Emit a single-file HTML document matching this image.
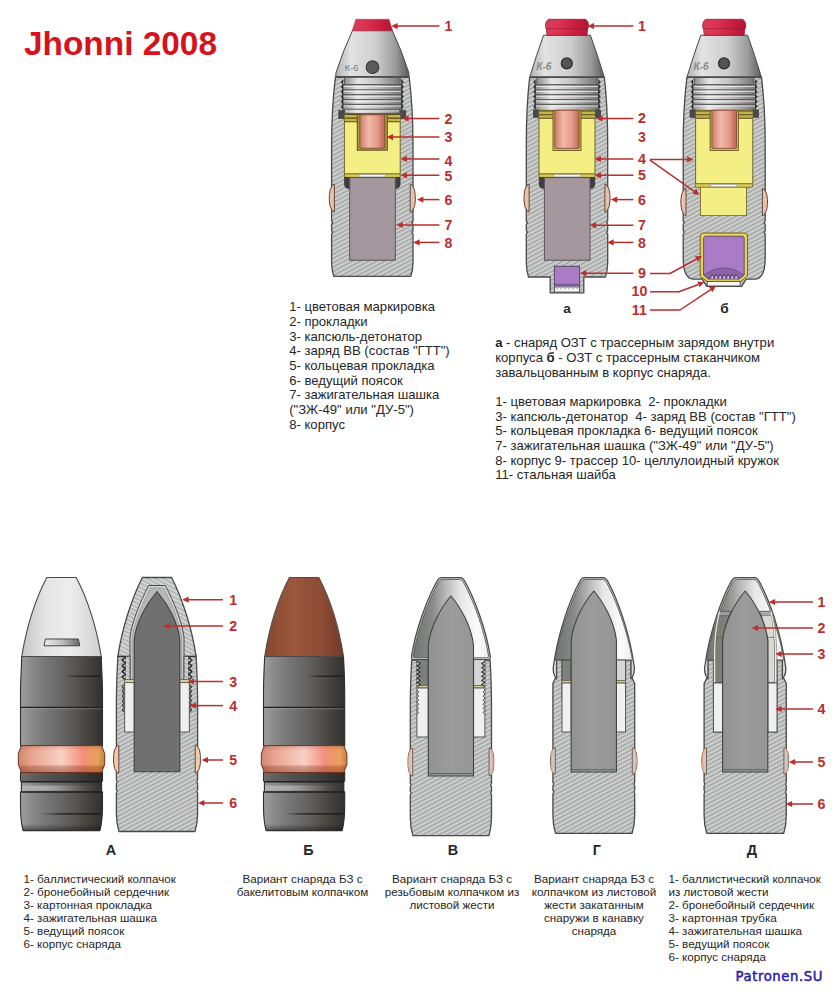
<!DOCTYPE html>
<html lang="ru">
<head>
<meta charset="utf-8">
<title>Jhonni 2008</title>
<style>
html,body{margin:0;padding:0;background:#fff;}
body{width:839px;height:1000px;overflow:hidden;}
svg{display:block;}
</style>
</head>
<body>
<svg width="839" height="1000" viewBox="0 0 839 1000">
<defs>
<pattern id="hatch" patternUnits="userSpaceOnUse" width="3.8" height="3.8" patternTransform="rotate(-28)">
  <rect width="3.8" height="3.8" fill="#ced0d0"/>
  <rect width="3.8" height="1.55" fill="#a4a6a6"/>
</pattern>
<pattern id="hatch2" patternUnits="userSpaceOnUse" width="3.8" height="3.8" patternTransform="rotate(28)">
  <rect width="3.8" height="3.8" fill="#d4d5d5"/>
  <rect width="3.8" height="1.5" fill="#aeb0b0"/>
</pattern>
<linearGradient id="fuze" x1="0" x2="1" y1="0" y2="0">
  <stop offset="0" stop-color="#b2b2b2"/><stop offset="0.2" stop-color="#e2e2e2"/>
  <stop offset="0.55" stop-color="#cecece"/><stop offset="0.82" stop-color="#9a9a9a"/><stop offset="1" stop-color="#5c5c5c"/>
</linearGradient>
<linearGradient id="thread" x1="0" x2="1" y1="0" y2="0">
  <stop offset="0" stop-color="#8e8e8e"/><stop offset="0.25" stop-color="#e6e6e6"/>
  <stop offset="0.6" stop-color="#c0c0c0"/><stop offset="1" stop-color="#757575"/>
</linearGradient>
<linearGradient id="redcap" x1="0" x2="1" y1="0" y2="0">
  <stop offset="0" stop-color="#d4405a"/><stop offset="0.3" stop-color="#dc3452"/>
  <stop offset="0.7" stop-color="#c81e40"/><stop offset="1" stop-color="#b01834"/>
</linearGradient>
<linearGradient id="copper" x1="0" x2="1" y1="0" y2="0">
  <stop offset="0" stop-color="#cb7c6a"/><stop offset="0.35" stop-color="#f2b8a8"/>
  <stop offset="0.7" stop-color="#e39c8a"/><stop offset="1" stop-color="#bb6652"/>
</linearGradient>
<linearGradient id="darkbody" x1="0" x2="1" y1="0" y2="0">
  <stop offset="0" stop-color="#9e9e9e"/><stop offset="0.12" stop-color="#8c8c8c"/><stop offset="0.3" stop-color="#777777"/>
  <stop offset="0.5" stop-color="#676666"/><stop offset="0.7" stop-color="#54514f"/><stop offset="0.88" stop-color="#403c3a"/><stop offset="1" stop-color="#33302e"/>
</linearGradient>
<linearGradient id="ridge" x1="0" x2="1" y1="0" y2="0">
  <stop offset="0" stop-color="#fff" stop-opacity="0.25"/><stop offset="0.3" stop-color="#fff" stop-opacity="0.4"/><stop offset="0.8" stop-color="#fff" stop-opacity="0.05"/><stop offset="1" stop-color="#fff" stop-opacity="0"/>
</linearGradient>
<linearGradient id="botshade" x1="0" x2="0" y1="0" y2="1">
  <stop offset="0" stop-color="#111" stop-opacity="0"/><stop offset="1" stop-color="#111" stop-opacity="0.45"/>
</linearGradient>
<linearGradient id="lightcap" x1="0" x2="1" y1="0" y2="0">
  <stop offset="0" stop-color="#c4c4c4"/><stop offset="0.3" stop-color="#e4e4e4"/>
  <stop offset="0.6" stop-color="#eeeeee"/><stop offset="1" stop-color="#cfcfcf"/>
</linearGradient>
<linearGradient id="browncap" x1="0" x2="1" y1="0" y2="0">
  <stop offset="0" stop-color="#86482f"/><stop offset="0.35" stop-color="#9b573e"/>
  <stop offset="0.7" stop-color="#8e4c35"/><stop offset="1" stop-color="#743a28"/>
</linearGradient>
<linearGradient id="band" x1="0" x2="1" y1="0" y2="0">
  <stop offset="0" stop-color="#d0866c"/><stop offset="0.15" stop-color="#e8a48e"/>
  <stop offset="0.5" stop-color="#fad0c6"/><stop offset="0.75" stop-color="#f29078"/><stop offset="0.92" stop-color="#eaa05c"/><stop offset="1" stop-color="#c88040"/>
</linearGradient>
<linearGradient id="bandv" x1="0" x2="0" y1="0" y2="1">
  <stop offset="0" stop-color="#7a2a10" stop-opacity="0.18"/><stop offset="0.2" stop-color="#7a2a10" stop-opacity="0"/>
  <stop offset="0.7" stop-color="#7a2a10" stop-opacity="0"/><stop offset="0.78" stop-color="#7a2a10" stop-opacity="0.3"/><stop offset="1" stop-color="#7a2a10" stop-opacity="0.45"/>
</linearGradient>
<linearGradient id="sheet" x1="0" x2="1" y1="0" y2="0">
  <stop offset="0" stop-color="#737571"/><stop offset="0.25" stop-color="#888a86"/><stop offset="0.42" stop-color="#b4b4b4"/>
  <stop offset="0.62" stop-color="#e6e6e6"/><stop offset="0.85" stop-color="#fbfbfb"/><stop offset="1" stop-color="#ececec"/>
</linearGradient>
<linearGradient id="core" x1="0" x2="1" y1="0" y2="0">
  <stop offset="0" stop-color="#929292"/><stop offset="0.5" stop-color="#9c9c9c"/><stop offset="1" stop-color="#959595"/>
</linearGradient>
<linearGradient id="slit" x1="0" x2="1" y1="0" y2="0">
  <stop offset="0" stop-color="#ececec"/><stop offset="0.5" stop-color="#c0c0c0"/><stop offset="1" stop-color="#666"/>
</linearGradient>
<linearGradient id="streak" x1="0" x2="1" y1="0" y2="0">
  <stop offset="0" stop-color="#1a1a1a" stop-opacity="0"/><stop offset="0.35" stop-color="#1a1a1a" stop-opacity="0.75"/><stop offset="1" stop-color="#1a1a1a" stop-opacity="0.9"/>
</linearGradient>
</defs>
<rect width="839" height="1000" fill="#fff"/>
<text x="24" y="54.5" font-family="'Liberation Sans', sans-serif" font-weight="bold" font-size="33.4" fill="#d6121c" text-anchor="start">Jhonni 2008</text>
<path d="M335.4,77 C333,97 331.6,120 331.6,145 V221.0 l1.2,1.6 l-1.2,1.6 V230.6 l1.2,1.6 l-1.2,1.6 V262 Q331.6,270 333.8,276.3 H410.8 Q413,270 413,262 V233.79999999999998 l-1.2,-1.6 l1.2,-1.6 V224.2 l-1.2,-1.6 l1.2,-1.6 V145 C413,120 411.6,97 409.2,77 Z" fill="url(#hatch)" stroke="#494949" stroke-width="1.3" stroke-linejoin="round"/>
<path d="M334.4,184.3 L332.8,184.70000000000002 Q329.3,189.3 329.3,195.3 V201 Q329.3,207 332.8,211.6 L334.4,212 Z" fill="#ecc0a8" stroke="#5c4a42" stroke-width="1"/>
<path d="M410.2,184.3 L411.8,184.70000000000002 Q415.3,189.3 415.3,195.3 V201 Q415.3,207 411.8,211.6 L410.2,212 Z" fill="#ecc0a8" stroke="#5c4a42" stroke-width="1"/>
<rect x="344.4" y="77" width="55.8" height="8" fill="url(#thread)" stroke="#494949" stroke-width="0.8"/>
<rect x="342.8" y="84.4" width="59" height="29.2" fill="url(#thread)" stroke="#494949" stroke-width="0.8"/>
<path d="M342.2,84.8 H402.4" stroke="#5e5e5e" stroke-width="1.1"/>
<path d="M343.4,86.5 H401.2" stroke="#f6f6f6" stroke-width="1" opacity="0.7"/>
<path d="M342.2,89.7 H402.4" stroke="#5e5e5e" stroke-width="1.1"/>
<path d="M343.4,91.4 H401.2" stroke="#f6f6f6" stroke-width="1" opacity="0.7"/>
<path d="M342.2,94.6 H402.4" stroke="#5e5e5e" stroke-width="1.1"/>
<path d="M343.4,96.3 H401.2" stroke="#f6f6f6" stroke-width="1" opacity="0.7"/>
<path d="M342.2,99.5 H402.4" stroke="#5e5e5e" stroke-width="1.1"/>
<path d="M343.4,101.2 H401.2" stroke="#f6f6f6" stroke-width="1" opacity="0.7"/>
<path d="M342.2,104.4 H402.4" stroke="#5e5e5e" stroke-width="1.1"/>
<path d="M343.4,106.1 H401.2" stroke="#f6f6f6" stroke-width="1" opacity="0.7"/>
<path d="M342.2,109.3 H402.4" stroke="#5e5e5e" stroke-width="1.1"/>
<path d="M343.4,111 H401.2" stroke="#f6f6f6" stroke-width="1" opacity="0.7"/>
<path d="M343.2,79.5 l-2,2.45 l2,2.45 l-2,2.45 l2,2.45 l-2,2.45 l2,2.45 l-2,2.45 l2,2.45 l-2,2.45 l2,2.45 l-2,2.45 l2,2.45" fill="#2a2a2a" stroke="#2a2a2a" stroke-width="0.7"/>
<path d="M401.4,79.5 l2,2.45 l-2,2.45 l2,2.45 l-2,2.45 l2,2.45 l-2,2.45 l2,2.45 l-2,2.45 l2,2.45 l-2,2.45 l2,2.45 l-2,2.45" fill="#2a2a2a" stroke="#2a2a2a" stroke-width="0.7"/>
<rect x="338.8" y="110.6" width="6" height="8.1" fill="#4a484c" stroke="#333" stroke-width="0.6"/>
<rect x="399.8" y="110.6" width="6" height="8.1" fill="#4a484c" stroke="#333" stroke-width="0.6"/>
<rect x="344.4" y="113.8" width="55.8" height="60.2" fill="#f3ef84" stroke="#6c6628" stroke-width="1"/>
<rect x="344.8" y="114" width="55" height="7.6" fill="#c4b44a"/>
<path d="M344.4,114.4 H400.2" stroke="#544a1c" stroke-width="1.1"/>
<path d="M344.4,118.1 H400.2" stroke="#544a1c" stroke-width="1.1"/>
<path d="M344.4,121.7 H400.2" stroke="#544a1c" stroke-width="1.1"/>
<rect x="357.3" y="114.4" width="30" height="35.8" fill="#a8983a" stroke="#5e5218" stroke-width="1"/>
<rect x="359.9" y="114.8" width="24.8" height="33.4" rx="1" fill="url(#copper)" stroke="#8a4a3a" stroke-width="0.9"/>
<rect x="344.4" y="174" width="55.8" height="3.4" fill="#d9cc58" stroke="#6c6628" stroke-width="0.8"/>
<rect x="358.8" y="174.5" width="27" height="2.5" fill="#f6f6ee" stroke="#888" stroke-width="0.5"/>
<path d="M344.5,177.4 H400.1 V184 Q400.1,188.6 394.9,188.6 H349.7 Q344.5,188.6 344.5,184 Z" fill="#3e3e3e" stroke="#2a2a2a" stroke-width="0.6"/>
<rect x="349.7" y="177.6" width="45.6" height="82.6" fill="#a4979d" stroke="#565656" stroke-width="1"/>
<path d="M352.5,30.6 Q343.3,50 335.9,73 V77 H408.9 V73 Q401.5,50 392.3,30.6 Z" fill="url(#fuze)" stroke="#494949" stroke-width="1"/>
<path d="M336.1,76.6 H408.7" stroke="#4a4a4a" stroke-width="1.3"/>
<path d="M355.9,19.3 H388.9 L392.7,30.8 H352.1 Z" fill="url(#redcap)" stroke="#b83a50" stroke-width="0.6"/>
<circle cx="372.5" cy="67.2" r="6.3" fill="#5c5a5a" stroke="#3a3a3a" stroke-width="1.1"/>
<text x="344.7" y="70.5" font-family="'Liberation Sans', sans-serif" font-size="9.4" fill="#7a7a7a">К-6</text>
<path d="M529.7,77.4 C527.3,97 526.3,120 526.3,145 V221.0 l1.2,1.6 l-1.2,1.6 V230.6 l1.2,1.6 l-1.2,1.6 V262 Q526.3,270 528.5,277 H550.2 V292.8 H583.8 V277 H605.5 Q607.7,270 607.7,262 V233.79999999999998 l-1.2,-1.6 l1.2,-1.6 V224.2 l-1.2,-1.6 l1.2,-1.6 V145 C607.7,120 606.7,97 604.3,77.4 Z" fill="url(#hatch)" stroke="#494949" stroke-width="1.3" stroke-linejoin="round"/>
<path d="M529.1,184.3 L527.5,184.70000000000002 Q524,189.3 524,195.3 V201 Q524,207 527.5,211.6 L529.1,212 Z" fill="#ecc0a8" stroke="#5c4a42" stroke-width="1"/>
<path d="M604.9,184.3 L606.5,184.70000000000002 Q610,189.3 610,195.3 V201 Q610,207 606.5,211.6 L604.9,212 Z" fill="#ecc0a8" stroke="#5c4a42" stroke-width="1"/>
<rect x="536.8" y="77.4" width="60.4" height="8" fill="url(#thread)" stroke="#494949" stroke-width="0.8"/>
<rect x="535.2" y="84.80000000000001" width="63.6" height="25.6" fill="url(#thread)" stroke="#494949" stroke-width="0.8"/>
<path d="M534.6,84.8 H599.4" stroke="#5e5e5e" stroke-width="1.1"/>
<path d="M535.8,86.5 H598.2" stroke="#f6f6f6" stroke-width="1" opacity="0.7"/>
<path d="M534.6,89.7 H599.4" stroke="#5e5e5e" stroke-width="1.1"/>
<path d="M535.8,91.4 H598.2" stroke="#f6f6f6" stroke-width="1" opacity="0.7"/>
<path d="M534.6,94.6 H599.4" stroke="#5e5e5e" stroke-width="1.1"/>
<path d="M535.8,96.3 H598.2" stroke="#f6f6f6" stroke-width="1" opacity="0.7"/>
<path d="M534.6,99.5 H599.4" stroke="#5e5e5e" stroke-width="1.1"/>
<path d="M535.8,101.2 H598.2" stroke="#f6f6f6" stroke-width="1" opacity="0.7"/>
<path d="M534.6,104.4 H599.4" stroke="#5e5e5e" stroke-width="1.1"/>
<path d="M535.8,106.1 H598.2" stroke="#f6f6f6" stroke-width="1" opacity="0.7"/>
<path d="M535.6,79.5 l-2,2.45 l2,2.45 l-2,2.45 l2,2.45 l-2,2.45 l2,2.45 l-2,2.45 l2,2.45 l-2,2.45 l2,2.45 l-2,2.45 l2,2.45" fill="#2a2a2a" stroke="#2a2a2a" stroke-width="0.7"/>
<path d="M598.4,79.5 l2,2.45 l-2,2.45 l2,2.45 l-2,2.45 l2,2.45 l-2,2.45 l2,2.45 l-2,2.45 l2,2.45 l-2,2.45 l2,2.45 l-2,2.45" fill="#2a2a2a" stroke="#2a2a2a" stroke-width="0.7"/>
<rect x="533.4" y="109.92" width="6" height="7.42" fill="#4a484c" stroke="#333" stroke-width="0.6"/>
<rect x="594.6" y="109.92" width="6" height="7.42" fill="#4a484c" stroke="#333" stroke-width="0.6"/>
<rect x="539" y="110.4" width="56" height="63.6" fill="#f3ef84" stroke="#6c6628" stroke-width="1"/>
<rect x="539.4" y="110.6" width="55.2" height="7.6" fill="#c4b44a"/>
<path d="M539,111 H595" stroke="#544a1c" stroke-width="1.1"/>
<path d="M539,114.7 H595" stroke="#544a1c" stroke-width="1.1"/>
<path d="M539,118.3 H595" stroke="#544a1c" stroke-width="1.1"/>
<rect x="553" y="110.4" width="28" height="40" fill="#d8c850" stroke="#5e5218" stroke-width="0.9"/>
<rect x="554.8" y="110.2" width="24.4" height="38.2" rx="1" fill="url(#copper)" stroke="#8a4a3a" stroke-width="0.9"/>
<rect x="539" y="174" width="56" height="3.4" fill="#d9cc58" stroke="#6c6628" stroke-width="0.8"/>
<rect x="553.5" y="174.5" width="27" height="2.5" fill="#f6f6ee" stroke="#888" stroke-width="0.5"/>
<path d="M539.2,177.4 H594.8 V184 Q594.8,188.6 589.6,188.6 H544.4 Q539.2,188.6 539.2,184 Z" fill="#3e3e3e" stroke="#2a2a2a" stroke-width="0.6"/>
<rect x="544.4" y="177.6" width="45.6" height="82.6" fill="#a4979d" stroke="#565656" stroke-width="1"/>
<rect x="554.4" y="266.3" width="25.2" height="25.8" fill="#f4f4f4" stroke="#494949" stroke-width="0.9"/>
<rect x="554.4" y="266.3" width="25.2" height="19.6" fill="#aa7cc6" stroke="#5a4a6a" stroke-width="0.9"/>
<rect x="554.8" y="283.8" width="24.4" height="2.6" fill="#7c5a98"/>
<path d="M555,286.4 l2,2 l2,-2 l2,2 l2,-2 l2,2 l2,-2 l2,2 l2,-2 l2,2 l2,-2 l2,2 l2,-2" fill="none" stroke="#4a3a5a" stroke-width="0.8"/>
<path d="M543.6,35.2 Q536.4,55 529.7,77.4 H604.3 Q597.6,55 590.4,35.2 Z" fill="url(#fuze)" stroke="#494949" stroke-width="1"/>
<path d="M529.9,77 H604.1" stroke="#4a4a4a" stroke-width="1.3"/>
<path d="M548.4,19.3 H585.6 Q588.8,21.5 588.6,26.5 Q587.2,29 587,35.3 H547 Q546.8,29 545.4,26.5 Q545.2,21.5 548.4,19.3 Z" fill="url(#redcap)" stroke="#a01832" stroke-width="0.8"/>
<path d="M546,28.6 H588" stroke="#9a1430" stroke-width="0.9" opacity="0.6"/>
<circle cx="566.8" cy="63.4" r="5.5" fill="#545454" stroke="#2c2c2c" stroke-width="1.2"/>
<text x="536.2" y="69.6" font-family="'Liberation Sans', sans-serif" font-size="10.2" font-style="italic" font-weight="bold" fill="#8c8c8c">К-6</text>
<path d="M686.9,77.4 C684.5,97 683.2,120 683.2,145 V221.0 l1.2,1.6 l-1.2,1.6 V230.6 l1.2,1.6 l-1.2,1.6 V258 C683.2,270 686.2,278.6 693.2,279.2 H702.2 L706.7,286.4 H741.7 L746.2,279.2 H755.2 C762.2,278.6 765.2,270 765.2,258 V233.79999999999998 l-1.2,-1.6 l1.2,-1.6 V224.2 l-1.2,-1.6 l1.2,-1.6 V145 C765.2,120 763.9,97 761.5,77.4 Z" fill="url(#hatch)" stroke="#494949" stroke-width="1.3" stroke-linejoin="round"/>
<path d="M686,188.5 L684.4,188.9 Q680.9,193.5 680.9,199.5 V204.5 Q680.9,210.5 684.4,215.1 L686,215.5 Z" fill="#ecc0a8" stroke="#5c4a42" stroke-width="1"/>
<path d="M762.4,188.5 L764,188.9 Q767.5,193.5 767.5,199.5 V204.5 Q767.5,210.5 764,215.1 L762.4,215.5 Z" fill="#ecc0a8" stroke="#5c4a42" stroke-width="1"/>
<rect x="694.4" y="77.4" width="59.6" height="8" fill="url(#thread)" stroke="#494949" stroke-width="0.8"/>
<rect x="692.8" y="84.80000000000001" width="62.8" height="25.6" fill="url(#thread)" stroke="#494949" stroke-width="0.8"/>
<path d="M692.2,84.8 H756.2" stroke="#5e5e5e" stroke-width="1.1"/>
<path d="M693.4,86.5 H755" stroke="#f6f6f6" stroke-width="1" opacity="0.7"/>
<path d="M692.2,89.7 H756.2" stroke="#5e5e5e" stroke-width="1.1"/>
<path d="M693.4,91.4 H755" stroke="#f6f6f6" stroke-width="1" opacity="0.7"/>
<path d="M692.2,94.6 H756.2" stroke="#5e5e5e" stroke-width="1.1"/>
<path d="M693.4,96.3 H755" stroke="#f6f6f6" stroke-width="1" opacity="0.7"/>
<path d="M692.2,99.5 H756.2" stroke="#5e5e5e" stroke-width="1.1"/>
<path d="M693.4,101.2 H755" stroke="#f6f6f6" stroke-width="1" opacity="0.7"/>
<path d="M692.2,104.4 H756.2" stroke="#5e5e5e" stroke-width="1.1"/>
<path d="M693.4,106.1 H755" stroke="#f6f6f6" stroke-width="1" opacity="0.7"/>
<path d="M693.2,79.5 l-2,2.45 l2,2.45 l-2,2.45 l2,2.45 l-2,2.45 l2,2.45 l-2,2.45 l2,2.45 l-2,2.45 l2,2.45 l-2,2.45 l2,2.45" fill="#2a2a2a" stroke="#2a2a2a" stroke-width="0.7"/>
<path d="M755.2,79.5 l2,2.45 l-2,2.45 l2,2.45 l-2,2.45 l2,2.45 l-2,2.45 l2,2.45 l-2,2.45 l2,2.45 l-2,2.45 l2,2.45 l-2,2.45" fill="#2a2a2a" stroke="#2a2a2a" stroke-width="0.7"/>
<rect x="690" y="109.92" width="6" height="7.42" fill="#4a484c" stroke="#333" stroke-width="0.6"/>
<rect x="752.4" y="109.92" width="6" height="7.42" fill="#4a484c" stroke="#333" stroke-width="0.6"/>
<rect x="695.6" y="110.4" width="57.2" height="73.6" fill="#f3ef84" stroke="#6c6628" stroke-width="1"/>
<rect x="696" y="110.6" width="56.4" height="7.6" fill="#c4b44a"/>
<path d="M695.6,111 H752.8" stroke="#544a1c" stroke-width="1.1"/>
<path d="M695.6,114.7 H752.8" stroke="#544a1c" stroke-width="1.1"/>
<path d="M695.6,118.3 H752.8" stroke="#544a1c" stroke-width="1.1"/>
<rect x="710.1" y="110.4" width="28.2" height="40" fill="#d8c850" stroke="#5e5218" stroke-width="0.9"/>
<rect x="711.9" y="110.2" width="24.6" height="38.2" rx="1" fill="url(#copper)" stroke="#8a4a3a" stroke-width="0.9"/>
<rect x="700.5" y="186.6" width="46" height="29" fill="#f3ef84" stroke="#77702a" stroke-width="0.9"/>
<rect x="695.1" y="183.8" width="57.2" height="3.4" fill="#d9cc58" stroke="#6c6628" stroke-width="0.8"/>
<rect x="710.2" y="184.3" width="27" height="2.5" fill="#f6f6ee" stroke="#888" stroke-width="0.5"/>
<path d="M700.2,236 Q700.2,233 703.2,233 H744.6 Q747.6,233 747.6,236 V276 L739.7,282 H707.7 L700.2,276 Z" fill="#e6d254" stroke="#6e6424" stroke-width="1"/>
<path d="M703.6,238.5 Q703.6,236.3 705.7,236.3 H742 Q744.2,236.3 744.2,238.5 V275 L739.2,279 H708.2 L703.6,275 Z" fill="#aa7cc6" stroke="#5a4a6a" stroke-width="0.9"/>
<path d="M704.2,274.5 Q724.2,261 743.6,274.5 L739.2,278.6 H708.2 Z" fill="#8c62aa" stroke="#5a4a6a" stroke-width="0.6"/>
<path d="M710.2,278.5 l2,-4.2 l2,4.2 l2,-4.2 l2,4.2 l2,-4.2 l2,4.2 l2,-4.2 l2,4.2 l2,-4.2 l2,4.2 l2,-4.2 l2,4.2 l2,-4.2 l2,4.2" fill="#dcd0ea" stroke="#3a2a4a" stroke-width="0.8"/>
<rect x="707.2" y="281.4" width="33" height="4.6" fill="#f6f6f6" stroke="#494949" stroke-width="0.9"/>
<path d="M700.8,35.2 Q693.6,55 686.9,77.4 H761.5 Q754.8,55 747.6,35.2 Z" fill="url(#fuze)" stroke="#494949" stroke-width="1"/>
<path d="M687.1,77 H761.3" stroke="#4a4a4a" stroke-width="1.3"/>
<path d="M705.6,19.3 H742.8 Q746,21.5 745.8,26.5 Q744.4,29 744.2,35.3 H704.2 Q704,29 702.6,26.5 Q702.4,21.5 705.6,19.3 Z" fill="url(#redcap)" stroke="#a01832" stroke-width="0.8"/>
<path d="M703.2,28.6 H745.2" stroke="#9a1430" stroke-width="0.9" opacity="0.6"/>
<circle cx="724" cy="63.4" r="5.5" fill="#545454" stroke="#2c2c2c" stroke-width="1.2"/>
<text x="693.4" y="69.6" font-family="'Liberation Sans', sans-serif" font-size="10.2" font-style="italic" font-weight="bold" fill="#8c8c8c">К-6</text>
<text x="444.6" y="31.2" font-family="'Liberation Sans', sans-serif" font-weight="bold" font-size="14.2" fill="#ba2e2e">1</text>
<path d="M396.7,26.1 H439.4" stroke="#ba2e2e" stroke-width="1.5" fill="none"/>
<path d="M391.2,26.1 L397.6,23 V29.2 Z" fill="#ba2e2e"/>
<text x="444.6" y="123.6" font-family="'Liberation Sans', sans-serif" font-weight="bold" font-size="14.2" fill="#ba2e2e">2</text>
<path d="M407.7,118.5 H439.4" stroke="#ba2e2e" stroke-width="1.5" fill="none"/>
<path d="M402.2,118.5 L408.6,115.4 V121.6 Z" fill="#ba2e2e"/>
<text x="444.6" y="142.3" font-family="'Liberation Sans', sans-serif" font-weight="bold" font-size="14.2" fill="#ba2e2e">3</text>
<path d="M392.1,137.1 H439.4" stroke="#ba2e2e" stroke-width="1.5" fill="none"/>
<path d="M386.6,137.1 L393,134 V140.2 Z" fill="#ba2e2e"/>
<text x="444.6" y="166.2" font-family="'Liberation Sans', sans-serif" font-weight="bold" font-size="14.2" fill="#ba2e2e">4</text>
<path d="M406.1,158.9 H439.4" stroke="#ba2e2e" stroke-width="1.5" fill="none"/>
<path d="M400.6,158.9 L407,155.8 V162 Z" fill="#ba2e2e"/>
<text x="444.6" y="180.5" font-family="'Liberation Sans', sans-serif" font-weight="bold" font-size="14.2" fill="#ba2e2e">5</text>
<path d="M406.1,175.3 H439.4" stroke="#ba2e2e" stroke-width="1.5" fill="none"/>
<path d="M400.6,175.3 L407,172.2 V178.4 Z" fill="#ba2e2e"/>
<text x="444.6" y="204.9" font-family="'Liberation Sans', sans-serif" font-weight="bold" font-size="14.2" fill="#ba2e2e">6</text>
<path d="M422.5,199.6 H439.4" stroke="#ba2e2e" stroke-width="1.5" fill="none"/>
<path d="M417,199.6 L423.4,196.5 V202.7 Z" fill="#ba2e2e"/>
<text x="444.6" y="230" font-family="'Liberation Sans', sans-serif" font-weight="bold" font-size="14.2" fill="#ba2e2e">7</text>
<path d="M401.9,225 H439.4" stroke="#ba2e2e" stroke-width="1.5" fill="none"/>
<path d="M396.4,225 L402.8,221.9 V228.1 Z" fill="#ba2e2e"/>
<text x="444.6" y="247.6" font-family="'Liberation Sans', sans-serif" font-weight="bold" font-size="14.2" fill="#ba2e2e">8</text>
<path d="M418.7,242.4 H439.4" stroke="#ba2e2e" stroke-width="1.5" fill="none"/>
<path d="M413.2,242.4 L419.6,239.3 V245.5 Z" fill="#ba2e2e"/>
<text x="638" y="31.2" font-family="'Liberation Sans', sans-serif" font-weight="bold" font-size="14.2" fill="#ba2e2e">1</text>
<path d="M593.1,26.1 H633.4" stroke="#ba2e2e" stroke-width="1.5" fill="none"/>
<path d="M587.6,26.1 L594,23 V29.2 Z" fill="#ba2e2e"/>
<text x="638" y="122.7" font-family="'Liberation Sans', sans-serif" font-weight="bold" font-size="14.2" fill="#ba2e2e">2</text>
<path d="M601.7,118.5 H633.4" stroke="#ba2e2e" stroke-width="1.5" fill="none"/>
<path d="M596.2,118.5 L602.6,115.4 V121.6 Z" fill="#ba2e2e"/>
<text x="638" y="142.1" font-family="'Liberation Sans', sans-serif" font-weight="bold" font-size="14.2" fill="#ba2e2e">3</text>
<text x="638" y="163.9" font-family="'Liberation Sans', sans-serif" font-weight="bold" font-size="14.2" fill="#ba2e2e">4</text>
<path d="M600.1,159 H633.4" stroke="#ba2e2e" stroke-width="1.5" fill="none"/>
<path d="M594.6,159 L601,155.9 V162.1 Z" fill="#ba2e2e"/>
<text x="638" y="180.4" font-family="'Liberation Sans', sans-serif" font-weight="bold" font-size="14.2" fill="#ba2e2e">5</text>
<path d="M600.1,175.3 H633.4" stroke="#ba2e2e" stroke-width="1.5" fill="none"/>
<path d="M594.6,175.3 L601,172.2 V178.4 Z" fill="#ba2e2e"/>
<text x="638" y="204.8" font-family="'Liberation Sans', sans-serif" font-weight="bold" font-size="14.2" fill="#ba2e2e">6</text>
<path d="M616.3,199.6 H633.4" stroke="#ba2e2e" stroke-width="1.5" fill="none"/>
<path d="M610.8,199.6 L617.2,196.5 V202.7 Z" fill="#ba2e2e"/>
<text x="638" y="230" font-family="'Liberation Sans', sans-serif" font-weight="bold" font-size="14.2" fill="#ba2e2e">7</text>
<path d="M595.3,225.3 H633.4" stroke="#ba2e2e" stroke-width="1.5" fill="none"/>
<path d="M589.8,225.3 L596.2,222.2 V228.4 Z" fill="#ba2e2e"/>
<text x="638" y="247.6" font-family="'Liberation Sans', sans-serif" font-weight="bold" font-size="14.2" fill="#ba2e2e">8</text>
<path d="M612.7,242.4 H633.4" stroke="#ba2e2e" stroke-width="1.5" fill="none"/>
<path d="M607.2,242.4 L613.6,239.3 V245.5 Z" fill="#ba2e2e"/>
<text x="638" y="278.4" font-family="'Liberation Sans', sans-serif" font-weight="bold" font-size="14.2" fill="#ba2e2e">9</text>
<path d="M585.5,273.2 H633.4" stroke="#ba2e2e" stroke-width="1.5" fill="none"/>
<path d="M580,273.2 L586.4,270.1 V276.3 Z" fill="#ba2e2e"/>
<text x="631.6" y="296.2" font-family="'Liberation Sans', sans-serif" font-weight="bold" font-size="14.2" fill="#ba2e2e">10</text>
<text x="631.8" y="315" font-family="'Liberation Sans', sans-serif" font-weight="bold" font-size="14.2" fill="#ba2e2e">11</text>
<path d="M650,159.4 L687.1,159.4" stroke="#ba2e2e" stroke-width="1.5" fill="none"/>
<path d="M693.5,159.4 L687.1,156.3 L687.1,162.5 Z" fill="#ba2e2e"/>
<path d="M650,160.2 L694.26,191.32" stroke="#ba2e2e" stroke-width="1.5" fill="none"/>
<path d="M699.5,195 L696.05,188.78 L692.48,193.86 Z" fill="#ba2e2e"/>
<path d="M650,273.5 H670.5" stroke="#ba2e2e" stroke-width="1.5" fill="none"/>
<path d="M670,273.5 L696.38,259.07" stroke="#ba2e2e" stroke-width="1.5" fill="none"/>
<path d="M702,256 L694.9,256.35 L697.87,261.79 Z" fill="#ba2e2e"/>
<path d="M650,291.8 H679.5" stroke="#ba2e2e" stroke-width="1.5" fill="none"/>
<path d="M679,291.8 L698.41,284.46" stroke="#ba2e2e" stroke-width="1.5" fill="none"/>
<path d="M704.4,282.2 L697.32,281.56 L699.51,287.36 Z" fill="#ba2e2e"/>
<path d="M650,310 H680.5" stroke="#ba2e2e" stroke-width="1.5" fill="none"/>
<path d="M680,310 L710.67,289.55" stroke="#ba2e2e" stroke-width="1.5" fill="none"/>
<path d="M716,286 L708.96,286.97 L712.39,292.13 Z" fill="#ba2e2e"/>
<text x="289.2" y="311.3" font-family="'Liberation Sans', sans-serif" font-weight="normal" font-size="13.1" fill="#262626" text-anchor="start">1- цветовая маркировка</text>
<text x="289.2" y="325.97" font-family="'Liberation Sans', sans-serif" font-weight="normal" font-size="13.1" fill="#262626" text-anchor="start">2- прокладки</text>
<text x="289.2" y="340.64" font-family="'Liberation Sans', sans-serif" font-weight="normal" font-size="13.1" fill="#262626" text-anchor="start">3- капсюль-детонатор</text>
<text x="289.2" y="355.31" font-family="'Liberation Sans', sans-serif" font-weight="normal" font-size="13.1" fill="#262626" text-anchor="start">4- заряд ВВ (состав "ГТТ")</text>
<text x="289.2" y="369.98" font-family="'Liberation Sans', sans-serif" font-weight="normal" font-size="13.1" fill="#262626" text-anchor="start">5- кольцевая прокладка</text>
<text x="289.2" y="384.65" font-family="'Liberation Sans', sans-serif" font-weight="normal" font-size="13.1" fill="#262626" text-anchor="start">6- ведущий поясок</text>
<text x="289.2" y="399.32" font-family="'Liberation Sans', sans-serif" font-weight="normal" font-size="13.1" fill="#262626" text-anchor="start">7- зажигательная шашка</text>
<text x="289.2" y="413.99" font-family="'Liberation Sans', sans-serif" font-weight="normal" font-size="13.1" fill="#262626" text-anchor="start">("ЗЖ-49" или "ДУ-5")</text>
<text x="289.2" y="428.66" font-family="'Liberation Sans', sans-serif" font-weight="normal" font-size="13.1" fill="#262626" text-anchor="start">8- корпус</text>
<text x="567" y="313.2" font-family="'Liberation Sans', sans-serif" font-weight="bold" font-size="13.6" fill="#262626" text-anchor="middle">а</text>
<text x="724.5" y="313.2" font-family="'Liberation Sans', sans-serif" font-weight="bold" font-size="13.6" fill="#262626" text-anchor="middle">б</text>
<text x="495.2" y="347.3" font-family="'Liberation Sans', sans-serif" font-size="13.1" fill="#262626"><tspan font-weight="bold">а</tspan> - снаряд ОЗТ с трассерным зарядом внутри</text>
<text x="495.2" y="361.97" font-family="'Liberation Sans', sans-serif" font-size="13.1" fill="#262626">корпуса <tspan font-weight="bold">б</tspan> - ОЗТ с трассерным стаканчиком</text>
<text x="495.2" y="376.64" font-family="'Liberation Sans', sans-serif" font-weight="normal" font-size="13.1" fill="#262626" text-anchor="start">завальцованным в корпус снаряда.</text>
<text x="495.2" y="405.98" font-family="'Liberation Sans', sans-serif" font-weight="normal" font-size="13.1" fill="#262626" text-anchor="start" xml:space="preserve">1- цветовая маркировка  2- прокладки</text>
<text x="495.2" y="420.65" font-family="'Liberation Sans', sans-serif" font-weight="normal" font-size="13.1" fill="#262626" text-anchor="start" xml:space="preserve">3- капсюль-детонатор  4- заряд ВВ (состав "ГТТ")</text>
<text x="495.2" y="435.32" font-family="'Liberation Sans', sans-serif" font-weight="normal" font-size="13.1" fill="#262626" text-anchor="start" xml:space="preserve">5- кольцевая прокладка 6- ведущий поясок</text>
<text x="495.2" y="449.99" font-family="'Liberation Sans', sans-serif" font-weight="normal" font-size="13.1" fill="#262626" text-anchor="start" xml:space="preserve">7- зажигательная шашка ("ЗЖ-49" или "ДУ-5")</text>
<text x="495.2" y="464.66" font-family="'Liberation Sans', sans-serif" font-weight="normal" font-size="13.1" fill="#262626" text-anchor="start" xml:space="preserve">8- корпус 9- трассер 10- целлулоидный кружок</text>
<text x="495.2" y="479.33" font-family="'Liberation Sans', sans-serif" font-weight="normal" font-size="13.1" fill="#262626" text-anchor="start" xml:space="preserve">11- стальная шайба</text>
<path d="M21.7,656.5 H101.3 C101.5,668 102.5,680 102.5,694 V746 H20.5 V694 C20.5,680 21.5,668 21.7,656.5 Z" fill="url(#darkbody)" stroke="#2e2c2c" stroke-width="1.1" stroke-linejoin="round"/>
<path d="M20.5,707.3 H102.5" stroke="#222" stroke-width="1.3"/>
<path d="M21.5,708.8 H101.5" stroke="#c8c8c8" stroke-width="0.9" opacity="0.35"/>
<rect x="64.5" y="675.5" width="36" height="1.5" fill="url(#streak)"/>
<path d="M20.5,772 H102.5 V780.6 L101.6,782 V791 L102.5,792.2 V806 Q102.5,821 99.9,830.6 H23.1 Q20.5,821 20.5,806 V792.2 L21.4,791 V782 L20.5,780.6 Z" fill="url(#darkbody)" stroke="#2e2c2c" stroke-width="1.1" stroke-linejoin="round"/>
<rect x="21.1" y="772.6" width="80.8" height="8.6" fill="#1c1c1c" opacity="0.38"/>
<rect x="22" y="785.5" width="79" height="5.2" fill="url(#ridge)"/>
<path d="M21.3,781.8 H101.7" stroke="#1e1e1e" stroke-width="1.5"/>
<path d="M21.3,792 H101.7" stroke="#1e1e1e" stroke-width="1.5"/>
<rect x="40.5" y="813" width="60" height="1.6" fill="url(#streak)"/>
<rect x="22.5" y="824" width="78" height="6" fill="url(#botshade)"/>
<path d="M21.5,745.6 H101.5 L104.7,753.5 V764.5 L101.5,772.5 H21.5 L18.3,764.5 V753.5 Z" fill="url(#band)" stroke="#6a3420" stroke-width="1" stroke-linejoin="round"/>
<path d="M21.5,745.6 H101.5 L104.7,753.5 V764.5 L101.5,772.5 H21.5 L18.3,764.5 V753.5 Z" fill="url(#bandv)"/>
<path d="M46.8,577.5 H76.2 C87,598 96.5,628 101.3,656.5 H21.7 C26.5,628 36,598 46.8,577.5 Z" fill="url(#lightcap)" stroke="#4a4a4a" stroke-width="1.1" stroke-linejoin="round"/>
<path d="M45.4,639 H78.4 L79.8,645.8 H44 Z" fill="url(#slit)" stroke="#444" stroke-width="1"/>
<path d="M264.7,656.5 H343.5 C344.1,668 344.7,680 344.7,694 V746 H263.5 V694 C263.5,680 264.1,668 264.7,656.5 Z" fill="url(#darkbody)" stroke="#2e2c2c" stroke-width="1.1" stroke-linejoin="round"/>
<path d="M263.5,707.3 H344.7" stroke="#222" stroke-width="1.3"/>
<path d="M264.5,708.8 H343.7" stroke="#c8c8c8" stroke-width="0.9" opacity="0.35"/>
<rect x="307.1" y="675.5" width="35.6" height="1.5" fill="url(#streak)"/>
<path d="M263.5,772 H344.7 V780.6 L343.8,782 V791 L344.7,792.2 V806 Q344.7,821 342.1,830.6 H266.1 Q263.5,821 263.5,806 V792.2 L264.4,791 V782 L263.5,780.6 Z" fill="url(#darkbody)" stroke="#2e2c2c" stroke-width="1.1" stroke-linejoin="round"/>
<rect x="264.1" y="772.6" width="80" height="8.6" fill="#1c1c1c" opacity="0.38"/>
<rect x="265" y="785.5" width="78.2" height="5.2" fill="url(#ridge)"/>
<path d="M264.3,781.8 H343.9" stroke="#1e1e1e" stroke-width="1.5"/>
<path d="M264.3,792 H343.9" stroke="#1e1e1e" stroke-width="1.5"/>
<rect x="283.1" y="813" width="59.6" height="1.6" fill="url(#streak)"/>
<rect x="265.5" y="824" width="77.2" height="6" fill="url(#botshade)"/>
<path d="M264.5,745.6 H343.7 L346.9,753.5 V764.5 L343.7,772.5 H264.5 L261.3,764.5 V753.5 Z" fill="url(#band)" stroke="#6a3420" stroke-width="1" stroke-linejoin="round"/>
<path d="M264.5,745.6 H343.7 L346.9,753.5 V764.5 L343.7,772.5 H264.5 L261.3,764.5 V753.5 Z" fill="url(#bandv)"/>
<path d="M289.4,577.5 H318.8 C329.6,598 339.1,628 343.5,656.5 H264.7 C269.1,628 278.6,598 289.4,577.5 Z" fill="url(#browncap)" stroke="#4a4a4a" stroke-width="1.1" stroke-linejoin="round"/>
<path d="M117.9,656 C117,672 116.4,688 116.4,705 V780.0 l1,1.5 l-1,1.5 V790.0 l1,1.5 l-1,1.5 V813.5 Q116.4,823.5 119,831.5 H195 Q197.6,823.5 197.6,813.5 V793.0 l-1,-1.5 l1,-1.5 V783.0 l-1,-1.5 l1,-1.5 V705 C197.6,688 197,672 196.1,656 Z" fill="url(#hatch)" stroke="#494949" stroke-width="1.3" stroke-linejoin="round"/>
<path d="M118.8,745.3 H117.3 Q113.6,749.3 113.6,755.3 V763 Q113.6,769 117.3,773 H118.8 Z" fill="#f1c8ae" stroke="#5c4a42" stroke-width="1"/>
<path d="M195.2,745.3 H196.7 Q200.4,749.3 200.4,755.3 V763 Q200.4,769 196.7,773 H195.2 Z" fill="#f1c8ae" stroke="#5c4a42" stroke-width="1"/>
<path d="M142.4,577.5 H171.6 C182,598 192,628 196.1,656.4 H117.9 C122,628 132,598 142.4,577.5 Z" fill="url(#hatch2)" stroke="#494949" stroke-width="1.3" stroke-linejoin="round"/>
<path d="M148.7,585.5 H165.3 C174,602 182,622 184,637 V680.4 H130 V637 C132,622 140,602 148.7,585.5 Z" fill="#d4d4d4" stroke="#494949" stroke-width="1"/>
<path d="M150.4,588 H163.6 C172,604 180,623 181.8,638 V680 H132.2 V638 C134,623 142,604 150.4,588 Z" fill="#b8b8b8" stroke="#8a8a8a" stroke-width="0.6"/>
<path d="M130,656.4 H125.4 V680.4 H130 Z" fill="url(#hatch2)" stroke="#494949" stroke-width="0.9"/>
<path d="M125.4,656.6 H117.9" stroke="#333" stroke-width="1.4"/>
<path d="M125.4,657.4 l-3.3,2.8 l3.3,2.8 l-3.3,2.8 l3.3,2.8 l-3.3,2.8 l3.3,2.8 l-3.3,2.8 l3.3,2.8" fill="url(#hatch)" stroke="#262626" stroke-width="1.4" stroke-linejoin="round"/>
<path d="M124.4,684.5 l-2.1,2.3 l2.1,2.3 l-2.1,2.3 l2.1,2.3 l-2.1,2.3 l2.1,2.3 l-2.1,2.3 l2.1,2.3 l-2.1,2.3 l2.1,2.3 l-2.1,2.3 l2.1,2.3" fill="url(#hatch)" stroke="#303030" stroke-width="1.1" stroke-linejoin="round"/>
<rect x="124.7" y="682.6" width="9.6" height="49.4" fill="#efefef" stroke="#494949" stroke-width="0.9"/>
<rect x="124.7" y="679.6" width="9.6" height="3" fill="#d6cfa6" stroke="#5a5228" stroke-width="0.7"/>
<path d="M184,656.4 H188.6 V680.4 H184 Z" fill="url(#hatch2)" stroke="#494949" stroke-width="0.9"/>
<path d="M188.6,656.6 H196.1" stroke="#333" stroke-width="1.4"/>
<path d="M188.6,657.4 l3.3,2.8 l-3.3,2.8 l3.3,2.8 l-3.3,2.8 l3.3,2.8 l-3.3,2.8 l3.3,2.8 l-3.3,2.8" fill="url(#hatch)" stroke="#262626" stroke-width="1.4" stroke-linejoin="round"/>
<path d="M189.6,684.5 l2.1,2.3 l-2.1,2.3 l2.1,2.3 l-2.1,2.3 l2.1,2.3 l-2.1,2.3 l2.1,2.3 l-2.1,2.3 l2.1,2.3 l-2.1,2.3 l2.1,2.3 l-2.1,2.3" fill="url(#hatch)" stroke="#303030" stroke-width="1.1" stroke-linejoin="round"/>
<rect x="179.7" y="682.6" width="9.6" height="49.4" fill="#efefef" stroke="#494949" stroke-width="0.9"/>
<rect x="179.7" y="679.6" width="9.6" height="3" fill="#d6cfa6" stroke="#5a5228" stroke-width="0.7"/>
<path d="M157,591.5 C167,603 178,622 179.8,640 V771.7 H134.2 V640 C136,622 147,603 157,591.5 Z" fill="#707070" stroke="#424242" stroke-width="1.1"/>
<text x="229.2" y="605" font-family="'Liberation Sans', sans-serif" font-weight="bold" font-size="14.2" fill="#ba2e2e">1</text>
<path d="M187.7,599.7 H223" stroke="#ba2e2e" stroke-width="1.5" fill="none"/>
<path d="M182.2,599.7 L188.6,596.6 V602.8 Z" fill="#ba2e2e"/>
<text x="229.2" y="631.3" font-family="'Liberation Sans', sans-serif" font-weight="bold" font-size="14.2" fill="#ba2e2e">2</text>
<path d="M168.7,626 H223" stroke="#ba2e2e" stroke-width="1.5" fill="none"/>
<path d="M163.2,626 L169.6,622.9 V629.1 Z" fill="#ba2e2e"/>
<text x="229.2" y="686.8" font-family="'Liberation Sans', sans-serif" font-weight="bold" font-size="14.2" fill="#ba2e2e">3</text>
<path d="M193.1,681.5 H223" stroke="#ba2e2e" stroke-width="1.5" fill="none"/>
<path d="M187.6,681.5 L194,678.4 V684.6 Z" fill="#ba2e2e"/>
<text x="229.2" y="710.9" font-family="'Liberation Sans', sans-serif" font-weight="bold" font-size="14.2" fill="#ba2e2e">4</text>
<path d="M195.3,705.6 H223" stroke="#ba2e2e" stroke-width="1.5" fill="none"/>
<path d="M189.8,705.6 L196.2,702.5 V708.7 Z" fill="#ba2e2e"/>
<text x="229.2" y="765.3" font-family="'Liberation Sans', sans-serif" font-weight="bold" font-size="14.2" fill="#ba2e2e">5</text>
<path d="M207.1,760 H223" stroke="#ba2e2e" stroke-width="1.5" fill="none"/>
<path d="M201.6,760 L208,756.9 V763.1 Z" fill="#ba2e2e"/>
<text x="229.2" y="808.3" font-family="'Liberation Sans', sans-serif" font-weight="bold" font-size="14.2" fill="#ba2e2e">6</text>
<path d="M203.5,803 H223" stroke="#ba2e2e" stroke-width="1.5" fill="none"/>
<path d="M198,803 L204.4,799.9 V806.1 Z" fill="#ba2e2e"/>
<path d="M415.9,660 H411.7 C410.9,675 410.3,690 410.3,705 V783.5 l1,1.5 l-1,1.5 V791.5 l1,1.5 l-1,1.5 V817.6 Q410.3,827.6 412.9,835.6 H488.9 Q491.5,827.6 491.5,817.6 V794.5 l-1,-1.5 l1,-1.5 V786.5 l-1,-1.5 l1,-1.5 V705 C491.5,690 490.9,675 490.1,660 H485.9 Z" fill="url(#hatch)" stroke="#494949" stroke-width="1.3" stroke-linejoin="round"/>
<path d="M412.7,748.5 H410.9 Q408,752.5 408,758.5 V765.5 Q408,771.5 410.9,775.5 H412.7 Z" fill="#cfcaca" stroke="#6e5548" stroke-width="0.9"/>
<path d="M410.7,749.8 Q408.9,753.0 408.9,758.5 V765.5 Q408.9,771.0 410.7,774.2" fill="none" stroke="#e6a98c" stroke-width="1.3"/>
<path d="M489.1,748.5 H490.9 Q493.8,752.5 493.8,758.5 V765.5 Q493.8,771.5 490.9,775.5 H489.1 Z" fill="#cfcaca" stroke="#6e5548" stroke-width="0.9"/>
<path d="M491.1,749.8 Q492.9,753.0 492.9,758.5 V765.5 Q492.9,771.0 491.1,774.2" fill="none" stroke="#e6a98c" stroke-width="1.3"/>
<path d="M441.9,577.6 H459.9 Q462.9,577.8 464.7,581 C474.1,598 485.9,628 490.3,656.6 Q490.5,659.6 487.5,659.6 H414.3 Q411.3,659.6 411.5,656.6 C415.9,628 427.7,598 437.1,581 Q438.9,577.8 441.9,577.6 Z" fill="#dcdcdc" stroke="#494949" stroke-width="1.3" stroke-linejoin="round"/>
<path d="M442.3,579.4 H459.5 Q461.9,579.6 463.4,582.2 C472.7,599 484.4,629 488.6,656.2 Q488.7,657.8 486.5,657.8 H415.3 Q413.1,657.8 413.2,656.2 C417.4,629 429.1,599 438.4,582.2 Q439.9,579.6 442.3,579.4 Z" fill="url(#sheet)" stroke="#555" stroke-width="0.9" stroke-linejoin="round"/>
<rect x="416.9" y="659.6" width="11.3" height="26" fill="#7e807c" stroke="#494949" stroke-width="0.9"/>
<rect x="416.9" y="685.6" width="11.3" height="2.4" fill="#d8cf9a" stroke="#6a6030" stroke-width="0.6"/>
<rect x="416.9" y="688" width="11.3" height="49" fill="#f0f0f0" stroke="#494949" stroke-width="0.9"/>
<path d="M416.9,661.5 l3.2,2.1 l-3.2,2.1 l3.2,2.1 l-3.2,2.1 l3.2,2.1 l-3.2,2.1 l3.2,2.1 l-3.2,2.1 l3.2,2.1 l-3.2,2.1 l3.2,2.1 l-3.2,2.1" fill="url(#hatch)" stroke="#333" stroke-width="1.1"/>
<path d="M416.9,690 l1.8,2.05 l-1.8,2.05 l1.8,2.05 l-1.8,2.05 l1.8,2.05 l-1.8,2.05 l1.8,2.05 l-1.8,2.05 l1.8,2.05 l-1.8,2.05 l1.8,2.05 l-1.8,2.05" fill="url(#hatch)" stroke="#4a4a4a" stroke-width="0.9"/>
<rect x="473.6" y="659.6" width="11.3" height="26" fill="#d6d6d6" stroke="#494949" stroke-width="0.9"/>
<rect x="473.6" y="685.6" width="11.3" height="2.4" fill="#d8cf9a" stroke="#6a6030" stroke-width="0.6"/>
<rect x="473.6" y="688" width="11.3" height="49" fill="#f0f0f0" stroke="#494949" stroke-width="0.9"/>
<path d="M484.9,661.5 l-3.2,2.1 l3.2,2.1 l-3.2,2.1 l3.2,2.1 l-3.2,2.1 l3.2,2.1 l-3.2,2.1 l3.2,2.1 l-3.2,2.1 l3.2,2.1 l-3.2,2.1 l3.2,2.1" fill="url(#hatch)" stroke="#333" stroke-width="1.1"/>
<path d="M484.9,690 l-1.8,2.05 l1.8,2.05 l-1.8,2.05 l1.8,2.05 l-1.8,2.05 l1.8,2.05 l-1.8,2.05 l1.8,2.05 l-1.8,2.05 l1.8,2.05 l-1.8,2.05 l1.8,2.05" fill="url(#hatch)" stroke="#4a4a4a" stroke-width="0.9"/>
<path d="M450.9,596 C460.4,607 471.3,626 473.5,645 V776 H428.3 V645 C430.5,626 441.4,607 450.9,596 Z" fill="url(#core)" stroke="#424242" stroke-width="1.1" stroke-linejoin="round"/>
<path d="M429.4,773.6 H472.4" stroke="#5a5a5a" stroke-width="0.9"/>
<path d="M556.4,660 H562 V690 H552.9 V782.5 l1,1.5 l-1,1.5 V790.5 l1,1.5 l-1,1.5 V815.3 Q552.9,825.3 555.5,833.3 H632.1 Q634.7,825.3 634.7,815.3 V793.5 l-1,-1.5 l1,-1.5 V785.5 l-1,-1.5 l1,-1.5 V690 H625.6 V660 H631.2 V676 L634.7,683.5 V690 H552.9 V683.5 L556.4,676 Z" fill="url(#hatch)" stroke="none"/>
<path d="M556.4,660 V676 L552.9,683.5 V782.5 l1,1.5 l-1,1.5 V790.5 l1,1.5 l-1,1.5 V815.3 Q552.9,825.3 555.5,833.3 H632.1 Q634.7,825.3 634.7,815.3 V793.5 l-1,-1.5 l1,-1.5 V785.5 l-1,-1.5 l1,-1.5 V683.5 L631.2,676 V660" fill="url(#hatch)" stroke="#494949" stroke-width="1.3" stroke-linejoin="round"/>
<path d="M562,660 V700 M625.6,660 V700" stroke="#494949" stroke-width="0.9" fill="none"/>
<path d="M555.3,748 H553.5 Q550.6,752 550.6,758 V764 Q550.6,770 553.5,774 H555.3 Z" fill="#cfcaca" stroke="#6e5548" stroke-width="0.9"/>
<path d="M553.3,749.3 Q551.5,752.5 551.5,758 V764 Q551.5,769.5 553.3,772.7" fill="none" stroke="#e6a98c" stroke-width="1.3"/>
<path d="M632.3,748 H634.1 Q637,752 637,758 V764 Q637,770 634.1,774 H632.3 Z" fill="#cfcaca" stroke="#6e5548" stroke-width="0.9"/>
<path d="M634.3,749.3 Q636.1,752.5 636.1,758 V764 Q636.1,769.5 634.3,772.7" fill="none" stroke="#e6a98c" stroke-width="1.3"/>
<path d="M584.8,577.6 H602.8 Q605.8,577.8 607.6,581 C617,598 629.8,632 634.4,668 Q634.7,673 632.4,677 L631,679 V660 H556.6 V679 L555.2,677 Q552.9,673 553.2,668 C557.8,632 570.6,598 580,581 Q581.8,577.8 584.8,577.6 Z" fill="#dcdcdc" stroke="#494949" stroke-width="1.3" stroke-linejoin="round"/>
<path d="M585.2,579.4 H602.4 Q604.8,579.6 606.3,582.2 C615.6,599 628,632 632.4,660 H555.2 C559.6,632 572,599 581.3,582.2 Q582.8,579.6 585.2,579.4 Z" fill="url(#sheet)" stroke="#555" stroke-width="0.9" stroke-linejoin="round"/>
<rect x="562" y="660" width="9.1" height="20.6" fill="#7e807c" stroke="#494949" stroke-width="0.9"/>
<rect x="562" y="680.6" width="9.1" height="2.4" fill="#d8cf9a" stroke="#6a6030" stroke-width="0.6"/>
<rect x="562" y="683" width="9.1" height="49" fill="#f0f0f0" stroke="#494949" stroke-width="0.9"/>
<rect x="616.5" y="660" width="9.1" height="20.6" fill="#d6d6d6" stroke="#494949" stroke-width="0.9"/>
<rect x="616.5" y="680.6" width="9.1" height="2.4" fill="#d8cf9a" stroke="#6a6030" stroke-width="0.6"/>
<rect x="616.5" y="683" width="9.1" height="49" fill="#f0f0f0" stroke="#494949" stroke-width="0.9"/>
<path d="M593.8,591 C603.3,602 614.2,621 616.4,640 V772 H571.2 V640 C573.4,621 584.3,602 593.8,591 Z" fill="url(#core)" stroke="#424242" stroke-width="1.1" stroke-linejoin="round"/>
<path d="M572.3,769.6 H615.3" stroke="#5a5a5a" stroke-width="0.9"/>
<path d="M707.8,660 H713.4 V690 H704.1 V782.5 l1,1.5 l-1,1.5 V790.5 l1,1.5 l-1,1.5 V815.3 Q704.1,825.3 706.7,833.3 H783.7 Q786.3,825.3 786.3,815.3 V793.5 l-1,-1.5 l1,-1.5 V785.5 l-1,-1.5 l1,-1.5 V690 H777 V660 H782.6 V676 L786.3,683.5 V690 H704.1 V683.5 L707.8,676 Z" fill="url(#hatch)" stroke="none"/>
<path d="M707.8,660 V676 L704.1,683.5 V782.5 l1,1.5 l-1,1.5 V790.5 l1,1.5 l-1,1.5 V815.3 Q704.1,825.3 706.7,833.3 H783.7 Q786.3,825.3 786.3,815.3 V793.5 l-1,-1.5 l1,-1.5 V785.5 l-1,-1.5 l1,-1.5 V683.5 L782.6,676 V660" fill="url(#hatch)" stroke="#494949" stroke-width="1.3" stroke-linejoin="round"/>
<path d="M713.4,660 V700 M777,660 V700" stroke="#494949" stroke-width="0.9" fill="none"/>
<path d="M706.5,748 H704.7 Q701.8,752 701.8,758 V764 Q701.8,770 704.7,774 H706.5 Z" fill="#cfcaca" stroke="#6e5548" stroke-width="0.9"/>
<path d="M704.5,749.3 Q702.7,752.5 702.7,758 V764 Q702.7,769.5 704.5,772.7" fill="none" stroke="#e6a98c" stroke-width="1.3"/>
<path d="M783.9,748 H785.7 Q788.6,752 788.6,758 V764 Q788.6,770 785.7,774 H783.9 Z" fill="#cfcaca" stroke="#6e5548" stroke-width="0.9"/>
<path d="M785.9,749.3 Q787.7,752.5 787.7,758 V764 Q787.7,769.5 785.9,772.7" fill="none" stroke="#e6a98c" stroke-width="1.3"/>
<path d="M736.2,577.6 H754.2 Q757.2,577.8 759,581 C768.4,598 781.2,632 785.8,668 Q786.1,673 783.8,677 L782.4,679 V660 H708 V679 L706.6,677 Q704.3,673 704.6,668 C709.2,632 722,598 731.4,581 Q733.2,577.8 736.2,577.6 Z" fill="#dcdcdc" stroke="#494949" stroke-width="1.3" stroke-linejoin="round"/>
<path d="M736.6,579.4 H753.8 Q756.2,579.6 757.7,582.2 C767,599 779.4,632 783.8,660 H706.6 C711,632 723.4,599 732.7,582.2 Q734.2,579.6 736.6,579.4 Z" fill="url(#sheet)" stroke="#555" stroke-width="0.9" stroke-linejoin="round"/>
<rect x="713.4" y="660" width="9.1" height="20.6" fill="#7e807c" stroke="#494949" stroke-width="0.9"/>
<rect x="713.4" y="680.6" width="9.1" height="2.4" fill="#d8cf9a" stroke="#6a6030" stroke-width="0.6"/>
<rect x="713.4" y="683" width="9.1" height="49" fill="#f0f0f0" stroke="#494949" stroke-width="0.9"/>
<rect x="767.9" y="660" width="9.1" height="20.6" fill="#d6d6d6" stroke="#494949" stroke-width="0.9"/>
<rect x="767.9" y="680.6" width="9.1" height="2.4" fill="#d8cf9a" stroke="#6a6030" stroke-width="0.6"/>
<rect x="767.9" y="683" width="9.1" height="49" fill="#f0f0f0" stroke="#494949" stroke-width="0.9"/>
<path d="M730.2,611.4 L719.6,611.4 Q715.6,630 715.6,650 V682.6 H722.5 V640 Z" fill="#7c7e78" stroke="#555" stroke-width="0.8"/>
<path d="M731.2,611.4 L719.6,611.4 L718.6,615.6 H728.7 Z" fill="#9c9e98" stroke="#555" stroke-width="0.6"/>
<path d="M727.7,637.4 H716.2" stroke="#5e605c" stroke-width="0.9" opacity="0.8"/>
<path d="M719.4,611.4 Q714.8,630 714.6,650 V682.6" fill="none" stroke="#f1eedc" stroke-width="1.6"/>
<path d="M718.4,611.4 Q713.8,630 713.6,650 V682.6" fill="none" stroke="#6a6a5e" stroke-width="0.6"/>
<rect x="713.4" y="683" width="9.1" height="49" fill="#f0f0f0" stroke="#494949" stroke-width="0.9"/>
<path d="M760.2,611.4 L770.8,611.4 Q774.8,630 774.8,650 V682.6 H767.9 V640 Z" fill="#d9d9d6" stroke="#555" stroke-width="0.8"/>
<path d="M759.2,611.4 L770.8,611.4 L771.8,615.6 H761.7 Z" fill="#a9aba6" stroke="#555" stroke-width="0.6"/>
<path d="M762.7,637.4 H774.2" stroke="#5e605c" stroke-width="0.9" opacity="0.8"/>
<path d="M771,611.4 Q775.6,630 775.8,650 V682.6" fill="none" stroke="#f1eedc" stroke-width="1.6"/>
<path d="M772,611.4 Q776.6,630 776.8,650 V682.6" fill="none" stroke="#6a6a5e" stroke-width="0.6"/>
<rect x="767.9" y="683" width="9.1" height="49" fill="#f0f0f0" stroke="#494949" stroke-width="0.9"/>
<path d="M745.2,591 C754.7,602 765.6,621 767.8,640 V772 H722.6 V640 C724.8,621 735.7,602 745.2,591 Z" fill="url(#core)" stroke="#424242" stroke-width="1.1" stroke-linejoin="round"/>
<path d="M723.7,769.6 H766.7" stroke="#5a5a5a" stroke-width="0.9"/>
<text x="817.6" y="607.3" font-family="'Liberation Sans', sans-serif" font-weight="bold" font-size="14.2" fill="#ba2e2e">1</text>
<path d="M774.2,602 H813" stroke="#ba2e2e" stroke-width="1.5" fill="none"/>
<path d="M768.7,602 L775.1,598.9 V605.1 Z" fill="#ba2e2e"/>
<text x="817.6" y="633.3" font-family="'Liberation Sans', sans-serif" font-weight="bold" font-size="14.2" fill="#ba2e2e">2</text>
<path d="M757.1,628 H813" stroke="#ba2e2e" stroke-width="1.5" fill="none"/>
<path d="M751.6,628 L758,624.9 V631.1 Z" fill="#ba2e2e"/>
<text x="817.6" y="659.3" font-family="'Liberation Sans', sans-serif" font-weight="bold" font-size="14.2" fill="#ba2e2e">3</text>
<path d="M780.7,654 H813" stroke="#ba2e2e" stroke-width="1.5" fill="none"/>
<path d="M775.2,654 L781.6,650.9 V657.1 Z" fill="#ba2e2e"/>
<text x="817.6" y="714.3" font-family="'Liberation Sans', sans-serif" font-weight="bold" font-size="14.2" fill="#ba2e2e">4</text>
<path d="M780.7,709 H813" stroke="#ba2e2e" stroke-width="1.5" fill="none"/>
<path d="M775.2,709 L781.6,705.9 V712.1 Z" fill="#ba2e2e"/>
<text x="817.6" y="767.3" font-family="'Liberation Sans', sans-serif" font-weight="bold" font-size="14.2" fill="#ba2e2e">5</text>
<path d="M794.3,762 H813" stroke="#ba2e2e" stroke-width="1.5" fill="none"/>
<path d="M788.8,762 L795.2,758.9 V765.1 Z" fill="#ba2e2e"/>
<text x="817.6" y="809.3" font-family="'Liberation Sans', sans-serif" font-weight="bold" font-size="14.2" fill="#ba2e2e">6</text>
<path d="M791.2,804 H813" stroke="#ba2e2e" stroke-width="1.5" fill="none"/>
<path d="M785.7,804 L792.1,800.9 V807.1 Z" fill="#ba2e2e"/>
<text x="111" y="854.6" font-family="'Liberation Sans', sans-serif" font-weight="bold" font-size="14.4" fill="#262626" text-anchor="middle">А</text>
<text x="308.4" y="854.6" font-family="'Liberation Sans', sans-serif" font-weight="bold" font-size="14.4" fill="#262626" text-anchor="middle">Б</text>
<text x="452.9" y="854.6" font-family="'Liberation Sans', sans-serif" font-weight="bold" font-size="14.4" fill="#262626" text-anchor="middle">В</text>
<text x="596.8" y="854.6" font-family="'Liberation Sans', sans-serif" font-weight="bold" font-size="14.4" fill="#262626" text-anchor="middle">Г</text>
<text x="752" y="854.6" font-family="'Liberation Sans', sans-serif" font-weight="bold" font-size="14.4" fill="#262626" text-anchor="middle">Д</text>
<text x="23.5" y="882.6" font-family="'Liberation Sans', sans-serif" font-weight="normal" font-size="11.65" fill="#262626" text-anchor="start">1- баллистический колпачок</text>
<text x="23.5" y="895.6" font-family="'Liberation Sans', sans-serif" font-weight="normal" font-size="11.65" fill="#262626" text-anchor="start">2- бронебойный сердечник</text>
<text x="23.5" y="908.6" font-family="'Liberation Sans', sans-serif" font-weight="normal" font-size="11.65" fill="#262626" text-anchor="start">3- картонная прокладка</text>
<text x="23.5" y="921.6" font-family="'Liberation Sans', sans-serif" font-weight="normal" font-size="11.65" fill="#262626" text-anchor="start">4- зажигательная шашка</text>
<text x="23.5" y="934.6" font-family="'Liberation Sans', sans-serif" font-weight="normal" font-size="11.65" fill="#262626" text-anchor="start">5- ведущий поясок</text>
<text x="23.5" y="947.6" font-family="'Liberation Sans', sans-serif" font-weight="normal" font-size="11.65" fill="#262626" text-anchor="start">6- корпус снаряда</text>
<text x="302.5" y="882.6" font-family="'Liberation Sans', sans-serif" font-weight="normal" font-size="11.65" fill="#262626" text-anchor="middle">Вариант снаряда БЗ с</text>
<text x="302.5" y="895.6" font-family="'Liberation Sans', sans-serif" font-weight="normal" font-size="11.65" fill="#262626" text-anchor="middle">бакелитовым колпачком</text>
<text x="452" y="882.6" font-family="'Liberation Sans', sans-serif" font-weight="normal" font-size="11.65" fill="#262626" text-anchor="middle">Вариант снаряда БЗ с</text>
<text x="452" y="895.6" font-family="'Liberation Sans', sans-serif" font-weight="normal" font-size="11.65" fill="#262626" text-anchor="middle">резьбовым колпачком из</text>
<text x="452" y="908.6" font-family="'Liberation Sans', sans-serif" font-weight="normal" font-size="11.65" fill="#262626" text-anchor="middle">листовой жести</text>
<text x="594" y="882.6" font-family="'Liberation Sans', sans-serif" font-weight="normal" font-size="11.65" fill="#262626" text-anchor="middle">Вариант снаряда БЗ с</text>
<text x="594" y="895.6" font-family="'Liberation Sans', sans-serif" font-weight="normal" font-size="11.65" fill="#262626" text-anchor="middle">колпачком из листовой</text>
<text x="594" y="908.6" font-family="'Liberation Sans', sans-serif" font-weight="normal" font-size="11.65" fill="#262626" text-anchor="middle">жести закатанным</text>
<text x="594" y="921.6" font-family="'Liberation Sans', sans-serif" font-weight="normal" font-size="11.65" fill="#262626" text-anchor="middle">снаружи в канавку</text>
<text x="594" y="934.6" font-family="'Liberation Sans', sans-serif" font-weight="normal" font-size="11.65" fill="#262626" text-anchor="middle">снаряда</text>
<text x="668.5" y="882.6" font-family="'Liberation Sans', sans-serif" font-weight="normal" font-size="11.65" fill="#262626" text-anchor="start">1- баллистический колпачок</text>
<text x="668.5" y="895.6" font-family="'Liberation Sans', sans-serif" font-weight="normal" font-size="11.65" fill="#262626" text-anchor="start">из листовой жести</text>
<text x="668.5" y="908.6" font-family="'Liberation Sans', sans-serif" font-weight="normal" font-size="11.65" fill="#262626" text-anchor="start">2- бронебойный сердечник</text>
<text x="668.5" y="921.6" font-family="'Liberation Sans', sans-serif" font-weight="normal" font-size="11.65" fill="#262626" text-anchor="start">3- картонная трубка</text>
<text x="668.5" y="934.6" font-family="'Liberation Sans', sans-serif" font-weight="normal" font-size="11.65" fill="#262626" text-anchor="start">4- зажигательная шашка</text>
<text x="668.5" y="947.6" font-family="'Liberation Sans', sans-serif" font-weight="normal" font-size="11.65" fill="#262626" text-anchor="start">5- ведущий поясок</text>
<text x="668.5" y="960.6" font-family="'Liberation Sans', sans-serif" font-weight="normal" font-size="11.65" fill="#262626" text-anchor="start">6- корпус снаряда</text>
<text x="735.6" y="981.2" font-family="'DejaVu Sans Condensed', 'DejaVu Sans', 'Liberation Sans', sans-serif" font-weight="normal" font-size="14.7" fill="#2a1eae" text-anchor="start" stroke="#2a1eae" stroke-width="0.5" stroke-linejoin="round" letter-spacing="0.6">Patronen.SU</text>
</svg>
</body>
</html>
